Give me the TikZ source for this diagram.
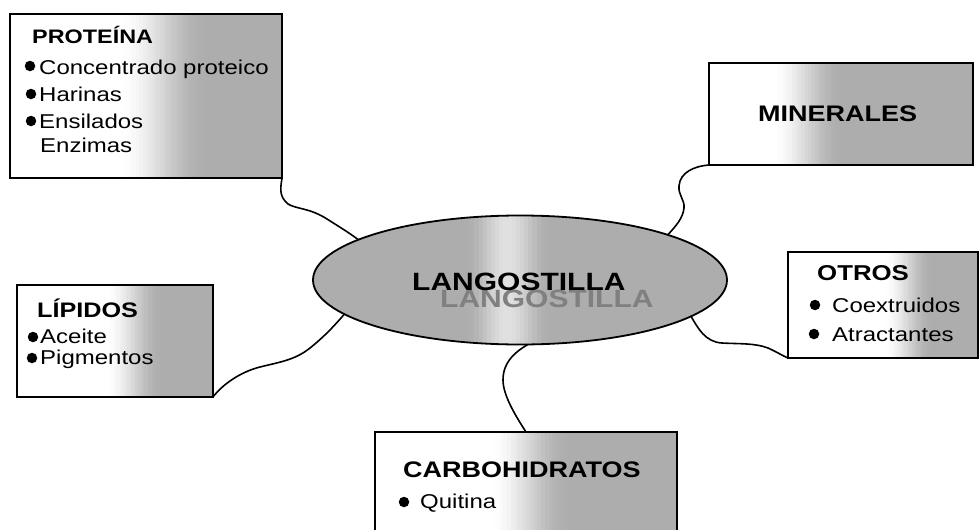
\documentclass[tikz,border=0pt]{standalone}
\usepackage{fontspec}
\setmainfont{Liberation Sans}
\newfontfamily\arialx[FakeStretch=1.2]{Liberation Sans}
\usetikzlibrary{shapes.geometric,calc}
\definecolor{boxgray}{gray}{0.68}
\definecolor{elllight}{gray}{0.88}
\definecolor{shadowgray}{gray}{0.5}
\begin{document}
\begin{tikzpicture}[x=1pt,y=-1pt,
  box/.style={draw=black, line width=1.5pt, rectangle, inner sep=0pt, outer sep=0pt},
  grad/.style 2 args={path picture={
    \foreach \i in {0,...,79}{
      \pgfmathsetmacro{\gx}{min(1,max(0,((\i+0.5)/80-#1)/(#2-#1)))}
      \pgfmathsetmacro{\gs}{\gx*\gx*(3-2*\gx)*100}
      \fill[boxgray!\gs!white]
        ($(path picture bounding box.south west)!{\i/80}!(path picture bounding box.south east)$)
        rectangle
        ($(path picture bounding box.north west)!{(\i+1.1)/80}!(path picture bounding box.north east)$);
    }}},
  ellgrad/.style={path picture={
    \foreach \i in {0,...,99}{
      \pgfmathsetmacro{\gx}{max(0,1-abs((\i+0.5)/100-0.47)/0.10)}
      \pgfmathsetmacro{\gs}{\gx*\gx*(3-2*\gx)*100}
      \fill[elllight!\gs!boxgray]
        ($(path picture bounding box.south west)!{\i/100}!(path picture bounding box.south east)$)
        rectangle
        ($(path picture bounding box.north west)!{(\i+1.1)/100}!(path picture bounding box.north east)$);
    }}},
  head/.style={anchor=base west, inner sep=0pt, font=\arialx\bfseries\fontsize{21}{21}\selectfont},
  item/.style={anchor=base west, inner sep=0pt, font=\arialx\fontsize{20}{20}\selectfont},
  bul/.style={circle, fill=black, inner sep=0pt, minimum size=10.5pt},
  link/.style={line width=1.6pt, line cap=round, line join=round}]
\useasboundingbox (0,0) rectangle (980,530);
\clip (0,0) rectangle (980,530);
% boxes
\node[box, grad={0.40}{0.72}, minimum width=272pt, minimum height=164pt] (prot) at (146,96) {};
\node[box, grad={0.24}{0.50}, minimum width=264pt, minimum height=102pt] (min) at (841,114) {};
\node[box, grad={0.50}{0.76}, minimum width=190pt, minimum height=106pt] (otr) at (883,305) {};
\node[box, grad={0.45}{0.74}, minimum width=196pt, minimum height=112pt] (lip) at (115,341) {};
\node[box, grad={0.38}{0.64}, minimum width=302pt, minimum height=102pt] (carb) at (526,483) {};
% ellipse
\node[ellipse, draw=black, line width=1.8pt, ellgrad, inner sep=0pt, outer sep=0pt,
      minimum width=414pt, minimum height=129pt] (lang) at (520,280) {};
\node[head, text=shadowgray, font=\arialx\bfseries\fontsize{25}{25}\selectfont] (langs) at (440,307) {LANGOSTILLA};
\node[head, font=\arialx\bfseries\fontsize{25}{25}\selectfont] (langt) at (412,290) {LANGOSTILLA};
% PROTEINA
\node[head, font=\arialx\bfseries\fontsize{19.5}{19.5}\selectfont] (ph) at (32,43) {PROTEÍNA};
\node[bul] (pb1) at (30,66) {};
\node[item] (p1) at (39,74) {Concentrado proteico};
\node[bul] (pb2) at (31,94) {};
\node[item] (p2) at (39,101) {Harinas};
\node[bul] (pb3) at (31,121) {};
\node[item] (p3) at (39,128) {Ensilados};
\node[item] (p4) at (40,152) {Enzimas};
% MINERALES
\node[head, font=\arialx\bfseries\fontsize{22.5}{22.5}\selectfont] (mh) at (758,121) {MINERALES};
% OTROS
\node[head, font=\arialx\bfseries\fontsize{21.5}{21.5}\selectfont] (oh) at (817,280) {OTROS};
\node[bul] (ob1) at (815,305) {};
\node[item] (o1) at (832,312) {Coextruidos};
\node[bul] (ob2) at (814,334) {};
\node[item] (o2) at (832,341) {Atractantes};
% LIPIDOS
\node[head, font=\arialx\bfseries\fontsize{21}{21}\selectfont] (lh) at (37,317) {LÍPIDOS};
\node[bul] (lb1) at (33,337) {};
\node[item] (l1) at (40,343) {Aceite};
\node[bul] (lb2) at (32,358) {};
\node[item] (l2) at (40,364) {Pigmentos};
% CARBOHIDRATOS
\node[head, font=\arialx\bfseries\fontsize{22.5}{22.5}\selectfont] (ch) at (403,477) {CARBOHIDRATOS};
\node[bul] (cb1) at (404,502) {};
\node[item] (c1) at (420,508) {Quitina};
% connectors
\draw[link] (prot.south east) .. controls (281,186) and (278,196) .. (288,204)
  .. controls (296,209) and (310,208) .. (327,219) .. controls (338,226) and (348,232) .. (lang.166);
\draw[link] (min.south west) .. controls (695,166) and (680,172) .. (679,186)
  .. controls (678,195) and (685,200) .. (684,208) .. controls (683,218) and (676,226) .. (lang.17);
\draw[link] (lang.348) .. controls (698,328) and (705,342) .. (722,343)
  .. controls (740,344) and (755,343) .. (768,348) .. controls (777,352) and (783,356) .. (otr.south west);
\draw[link] (lip.south east) .. controls (222,385) and (240,372) .. (260,367)
  .. controls (280,362) and (295,360) .. (310,348) .. controls (325,336) and (335,325) .. (lang.191);
\draw[link] (lang.277) .. controls (515,352) and (503,362) .. (503,380)
  .. controls (503,395) and (515,415) .. (carb.north);
\end{tikzpicture}
\end{document}
